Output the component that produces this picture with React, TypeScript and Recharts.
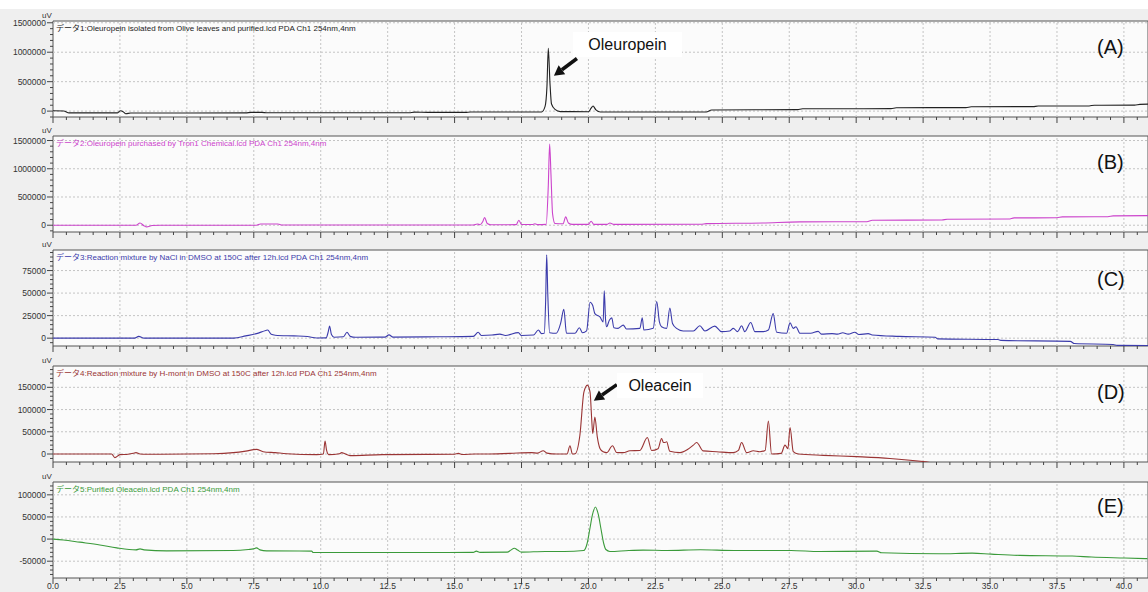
import { LineChart, Line, XAxis, YAxis, ReferenceArea, ReferenceLine } from 'recharts'

const FONT = "'Liberation Sans', Arial, 'Noto Sans CJK JP', sans-serif"
const X_MAX = 40.9
const PLOT_H = 96
const PAD_TOP = 8

// retention time (min), signal (uV)
const traceA: [number, number][] = [
  [0, 5000], [0.4, 3000], [0.6, -30000], [2.4, -30000], [2.52, 5000], [2.62, -10000], [2.72, -45000],
  [2.9, -32000], [7.2, -30000], [7.4, -22000], [7.8, -22000], [8.0, -28000], [13.3, -28000],
  [13.5, -18000], [14.0, -22000], [15.4, -22000], [15.6, -15000], [18.25, -15000], [18.38, 80000],
  [18.45, 420000], [18.5, 1065000], [18.56, 500000], [18.62, 120000], [18.75, 30000], [18.95, -8000],
  [20.0, -10000], [20.1, 50000], [20.17, 86000], [20.28, 20000], [20.45, -15000], [24.4, -15000],
  [24.6, 20000], [27.8, 25000], [28.0, 40000], [31.3, 42000], [31.5, 57000], [34.1, 60000],
  [34.3, 74000], [36.6, 76000], [36.8, 86000], [38.7, 88000], [38.9, 100000], [40.4, 102000],
  [40.6, 115000], [40.9, 118000],
]

const traceB: [number, number][] = [
  [0, 0], [3.1, 0], [3.25, 40000], [3.4, -10000], [3.5, -30000], [3.7, -5000], [4.0, 0], [7.6, 0],
  [7.75, 23000], [8.4, 23000], [8.55, 3000], [15.7, 5000], [15.85, 22000], [15.95, 8000],
  [16.05, 60000], [16.12, 137000], [16.22, 30000], [16.35, 8000], [17.3, 10000], [17.4, 89000],
  [17.5, 12000], [17.9, 12000], [18.0, 25000], [18.1, 10000], [18.42, 15000], [18.5, 700000],
  [18.55, 1436000], [18.6, 900000], [18.66, 200000], [18.75, 30000], [19.05, 25000], [19.15, 148000],
  [19.25, 40000], [19.4, 15000], [20.0, 15000], [20.1, 71000], [20.2, 15000], [20.7, 15000],
  [20.8, 40000], [20.95, 15000], [24.2, 18000], [24.4, 28000], [26.5, 40000], [27.9, 59000],
  [30.4, 62000], [30.6, 89000], [33.2, 92000], [33.4, 107000], [35.7, 110000], [35.9, 130000],
  [37.5, 132000], [37.7, 148000], [39.4, 150000], [39.6, 165000], [40.9, 170000],
]

const traceC: [number, number][] = [
  [0, 0], [3.05, 0], [3.2, 2000], [3.4, 0], [6.75, 0], [7.2, 2500], [7.6, 5000], [7.95, 8500],
  [8.02, 9000], [8.15, 4300], [8.3, 3300], [9.0, 2500], [9.5, 1800], [9.85, 200], [10.2, 300],
  [10.28, 7000], [10.33, 13400], [10.4, 4000], [10.5, 1000], [10.85, 1500], [10.98, 6500],
  [11.1, 2000], [11.3, 1000], [12.4, 1200], [12.55, 3600], [12.7, 1200], [14.4, 1500], [15.7, 2000],
  [15.88, 6500], [16.0, 3000], [16.4, 3500], [16.69, 4500], [16.9, 3000], [17.38, 6100], [17.5, 3000],
  [17.95, 3500], [18.13, 9000], [18.25, 5000], [18.35, 5400], [18.4, 40000], [18.44, 92400],
  [18.48, 50000], [18.55, 6000], [18.8, 5400], [18.96, 16300], [19.08, 31900], [19.18, 5400],
  [19.5, 5400], [19.66, 11600], [19.78, 6000], [19.93, 8000], [20.06, 39900], [20.16, 36200],
  [20.24, 27200], [20.43, 23500], [20.55, 18100], [20.59, 52500], [20.64, 20000], [20.68, 12700],
  [20.78, 19900], [20.87, 22500], [20.95, 11600], [21.11, 10900], [21.3, 14500], [21.42, 10100],
  [21.92, 10900], [22.01, 22500], [22.07, 9000], [22.42, 10900], [22.55, 40600], [22.65, 18100],
  [22.73, 12700], [22.92, 10900], [23.04, 33300], [23.14, 16300], [23.29, 10900], [23.54, 8000],
  [23.92, 8000], [24.16, 13800], [24.35, 8000], [24.72, 13400], [24.97, 7200], [25.28, 8000],
  [25.41, 10900], [25.57, 7200], [25.72, 13800], [25.84, 7200], [26.06, 17400], [26.22, 7200],
  [26.53, 7200], [26.72, 9000], [26.9, 27200], [27.03, 6500], [27.4, 5400], [27.53, 17000],
  [27.65, 10900], [27.75, 12700], [27.9, 5400], [28.3, 5500], [28.58, 7500], [28.7, 4500],
  [29.1, 5000], [29.3, 4500], [29.5, 6000], [29.7, 4500], [29.95, 6500], [30.1, 4000], [30.45, 5000],
  [30.6, 3500], [31.6, 2000], [32.95, 1000], [33.05, -800], [35.3, -1500], [35.4, -2500],
  [38.0, -3600], [38.15, -6000], [39.6, -7000], [39.75, -8000], [40.9, -8200],
]

const traceD: [number, number][] = [
  [0, 0], [2.19, 0], [2.31, -8200], [2.5, -1500], [2.8, -500], [3.0, 1500], [3.1, 3000], [3.25, 0],
  [3.5, -500], [6.0, 700], [6.73, 3000], [7.2, 6500], [7.6, 10400], [7.85, 5200], [8.3, 3000],
  [8.73, 700], [9.85, -1500], [10.1, 0], [10.16, 29000], [10.22, 8000], [10.3, -1500], [10.7, 700],
  [10.78, 3000], [10.9, 500], [11.09, -3700], [12.3, -1500], [15.0, -500], [15.14, 1500],
  [15.3, -1000], [15.76, 0], [16.2, 0], [17.07, 1500], [17.88, 3000], [18.1, 2000], [18.31, 7400],
  [18.45, 2000], [18.81, 0], [19.2, 0], [19.31, 18600], [19.4, 0], [19.5, 500], [19.68, 42300],
  [19.83, 139000], [19.96, 155000], [20.06, 139000], [20.12, 80000], [20.16, 46000], [20.24, 83200],
  [20.33, 38600], [20.43, 12600], [20.55, 5000], [20.68, 3000], [20.9, 18600], [21.05, 3500],
  [21.3, 3000], [21.55, 7400], [21.92, 8000], [22.2, 37000], [22.36, 8000], [22.6, 12000],
  [22.73, 34900], [22.8, 26000], [22.86, 26000], [22.92, 27500], [23.04, 6000], [23.42, 3000],
  [23.7, 10000], [23.92, 20000], [24.04, 26000], [24.29, 7000], [24.79, 5200], [25.41, 3000],
  [25.6, 8000], [25.72, 26000], [25.91, 3000], [26.16, 7400], [26.4, 5200], [26.6, 8000],
  [26.72, 74300], [26.84, 0], [27.2, 1500], [27.34, 20000], [27.45, 12000], [27.53, 59400],
  [27.65, 5200], [27.84, 0], [28.77, -3000], [30.02, -6000], [31.26, -10000], [32.5, -17000],
  [33.13, -22000], [33.9, -24000],
]

const traceE: [number, number][] = [
  [0, 0], [0.39, -2000], [1.0, -7000], [1.75, -13300], [2.38, -19900], [3.1, -24400], [3.25, -22200],
  [3.4, -24400], [4.24, -26600], [6.73, -25800], [7.3, -23500], [7.48, -22200], [7.6, -20000],
  [7.73, -24400], [7.98, -26600], [9.66, -27300], [9.72, -30500], [12.96, -30500], [15.7, -30000],
  [15.81, -27300], [15.95, -30000], [16.97, -29500], [17.1, -25000], [17.23, -20700], [17.35, -24500],
  [17.5, -29500], [18.39, -28100], [19.1, -28100], [19.82, -26000], [19.95, -10000], [20.05, 22200],
  [20.15, 55000], [20.26, 72400], [20.37, 55000], [20.47, 22200], [20.57, -10000], [20.65, -23600],
  [20.8, -28100], [21.51, -25800], [22.04, -25000], [22.93, -25800], [24.18, -24000], [25.43, -25800],
  [27.56, -25800], [28.63, -28100], [30.77, -27300], [30.95, -31000], [33.09, -33200], [34.33, -31800],
  [35.04, -34000], [36.11, -36900], [38.07, -38400], [38.79, -40600], [40.03, -42800], [40.88, -44300],
]

const xMajorTicks = [0, 2.5, 5, 7.5, 10, 12.5, 15, 17.5, 20, 22.5, 25, 27.5, 30, 32.5, 35, 37.5, 40]
const xMinorStep = 0.5

const yMajorA = [0, 500000, 1000000, 1500000]
const yMajorC = [0, 25000, 50000, 75000]
const yMajorD = [0, 50000, 100000, 150000]
const yMajorE = [-50000, 0, 50000, 100000]

const titles = [
  'データ1:Oleuropein isolated from Olive leaves and purified.lcd PDA Ch1 254nm,4nm',
  'データ2:Oleuropein purchased by Tron1 Chemical.lcd PDA Ch1 254nm,4nm',
  'データ3:Reaction mixture by NaCl in DMSO at 150C after 12h.lcd PDA Ch1 254nm,4nm',
  'データ4:Reaction mixture by H-mont in DMSO at 150C after 12h.lcd PDA Ch1 254nm,4nm',
  'データ5:Purified Oleacein.lcd PDA Ch1 254nm,4nm',
]
const letters = ['(A)', '(B)', '(C)', '(D)', '(E)']

function stepTicks(lo: number, hi: number, step: number) {
  const out: number[] = []
  for (let v = Math.ceil(lo / step) * step; v <= hi + 1e-9; v += step) out.push(Math.round(v * 100) / 100)
  return out
}

const isOn = (v: number, step: number) => Math.abs(v / step - Math.round(v / step)) < 1e-6

function XTick(props: any) {
  const { x, y, payload, showLabel } = props
  const major = isOn(payload.value, 2.5)
  return (
    <g>
      <line x1={x} y1={y} x2={x} y2={y + (major ? 6 : 3)} stroke="#444" strokeWidth={1} />
      {showLabel && major && (
        <text x={x} y={y + 11} textAnchor="middle" fontSize={8.5} fill="#333" fontFamily={FONT}>
          {payload.value.toFixed(1)}
        </text>
      )}
    </g>
  )
}

function YTick(props: any) {
  const { x, y, payload, majorStep } = props
  const major = isOn(payload.value, majorStep)
  return (
    <g>
      <line x1={x} y1={y} x2={x - (major ? 6 : 3)} y2={y} stroke="#444" strokeWidth={1} />
      {major && (
        <text x={x - 7} y={y + 3} textAnchor="end" fontSize={8.5} fill="#333" fontFamily={FONT}>
          {payload.value}
        </text>
      )}
    </g>
  )
}

function Arrow(props: any) {
  const { x1, y1, x2, y2 } = props
  const ang = Math.atan2(y2 - y1, x2 - x1)
  const len = 10
  const w = 5.5
  const bx = x2 - len * Math.cos(ang)
  const by = y2 - len * Math.sin(ang)
  const px = -Math.sin(ang) * w
  const py = Math.cos(ang) * w
  return (
    <g>
      <line x1={x1} y1={y1} x2={bx} y2={by} stroke="#111" strokeWidth={3.5} />
      <polygon points={`${x2},${y2} ${bx + px},${by + py} ${bx - px},${by - py}`} fill="#111" />
    </g>
  )
}

const panels = [
  { top: 21, domain: [-100000, 1530000], majors: yMajorA, step: 500000, minor: 100000, color: '#222222', trace: traceA, letterY: 36 },
  { top: 136, domain: [-120000, 1580000], majors: yMajorA, step: 500000, minor: 100000, color: '#cc44cc', trace: traceB, letterY: 151 },
  { top: 250, domain: [-8700, 97800], majors: yMajorC, step: 25000, minor: 5000, color: '#3b3bab', trace: traceC, letterY: 268 },
  { top: 366, domain: [-18000, 198000], majors: yMajorD, step: 50000, minor: 10000, color: '#9a3434', trace: traceD, letterY: 381 },
  { top: 482, domain: [-88000, 129000], majors: yMajorE, step: 50000, minor: 10000, color: '#3a9a3a', trace: traceE, letterY: 495 },
]

const xTicks = stepTicks(0, 40.5, xMinorStep)

export default function App() {
  return (
    <div style={{ position: 'absolute', left: 0, top: 0, width: 1148, height: 592, background: '#efefef', overflow: 'hidden', fontFamily: FONT }}>
      <div style={{ position: 'absolute', left: 0, top: 0, width: 1148, height: 9, background: '#ffffff' }} />
      {panels.map((p, i) => {
        const data = p.trace.map(([t, v]) => ({ t, v }))
        const yTicks = stepTicks(p.domain[0], p.domain[1], p.minor)
        const last = i === panels.length - 1
        return (
          <div key={i} style={{ position: 'absolute', left: 0, top: p.top - PAD_TOP }}>
            <LineChart width={1148} height={PLOT_H + 22 + PAD_TOP} data={data} margin={{ top: PAD_TOP, right: 0, bottom: 0, left: 0 }}>
              <XAxis
                dataKey="t"
                type="number"
                domain={[0, X_MAX]}
                allowDataOverflow
                ticks={xTicks}
                interval={0}
                height={22}
                axisLine={false}
                tickLine={false}
                tickSize={0}
                tickMargin={0}
                tick={(tp: any) => <XTick {...tp} showLabel={last} />}
              />
              <YAxis
                type="number"
                domain={p.domain}
                allowDataOverflow
                ticks={yTicks}
                interval={0}
                width={53}
                axisLine={false}
                tickLine={false}
                tickSize={0}
                tickMargin={0}
                tick={(tp: any) => <YTick {...tp} majorStep={p.step} />}
              />
              <ReferenceArea x1={0} x2={X_MAX} y1={p.domain[0]} y2={p.domain[1]} fill="#fbfbfb" fillOpacity={1} stroke="#555" strokeWidth={1} />
              {xMajorTicks.slice(1).map(v => (
                <ReferenceLine key={`x${v}`} x={v} stroke="#c4c4c4" strokeDasharray="2 2" />
              ))}
              {p.majors.map(v => (
                <ReferenceLine key={`y${v}`} y={v} stroke="#c4c4c4" strokeDasharray="2 2" />
              ))}
              <Line type="monotone" dataKey="v" stroke={p.color} strokeWidth={1.1} dot={false} isAnimationActive={false} />
              {i === 0 && (
                <ReferenceLine segment={[{ x: 19.57, y: 893000 }, { x: 18.71, y: 601000 }]} shape={Arrow} ifOverflow="visible" />
              )}
              {i === 3 && (
                <ReferenceLine segment={[{ x: 21.06, y: 156000 }, { x: 20.2, y: 120000 }]} shape={Arrow} ifOverflow="visible" />
              )}
            </LineChart>
            <div style={{ position: 'absolute', left: 42, top: PAD_TOP - 10, fontSize: 8, color: '#333' }}>uV</div>
            <div style={{ position: 'absolute', left: 56, top: PAD_TOP + 1, fontSize: 8, color: p.color, whiteSpace: 'nowrap' }}>{titles[i]}</div>
          </div>
        )
      })}
      {panels.map((p, i) => (
        <div key={`l${i}`} style={{ position: 'absolute', left: 1097, top: p.letterY, fontSize: 20, color: '#111' }}>{letters[i]}</div>
      ))}
      <div style={{ position: 'absolute', left: 573, top: 32, width: 109, height: 25, background: '#ffffff', fontSize: 16, color: '#111', textAlign: 'center', lineHeight: '25px' }}>Oleuropein</div>
      <div style={{ position: 'absolute', left: 617, top: 373, width: 86, height: 25, background: '#ffffff', fontSize: 16, color: '#111', textAlign: 'center', lineHeight: '25px' }}>Oleacein</div>
    </div>
  )
}
